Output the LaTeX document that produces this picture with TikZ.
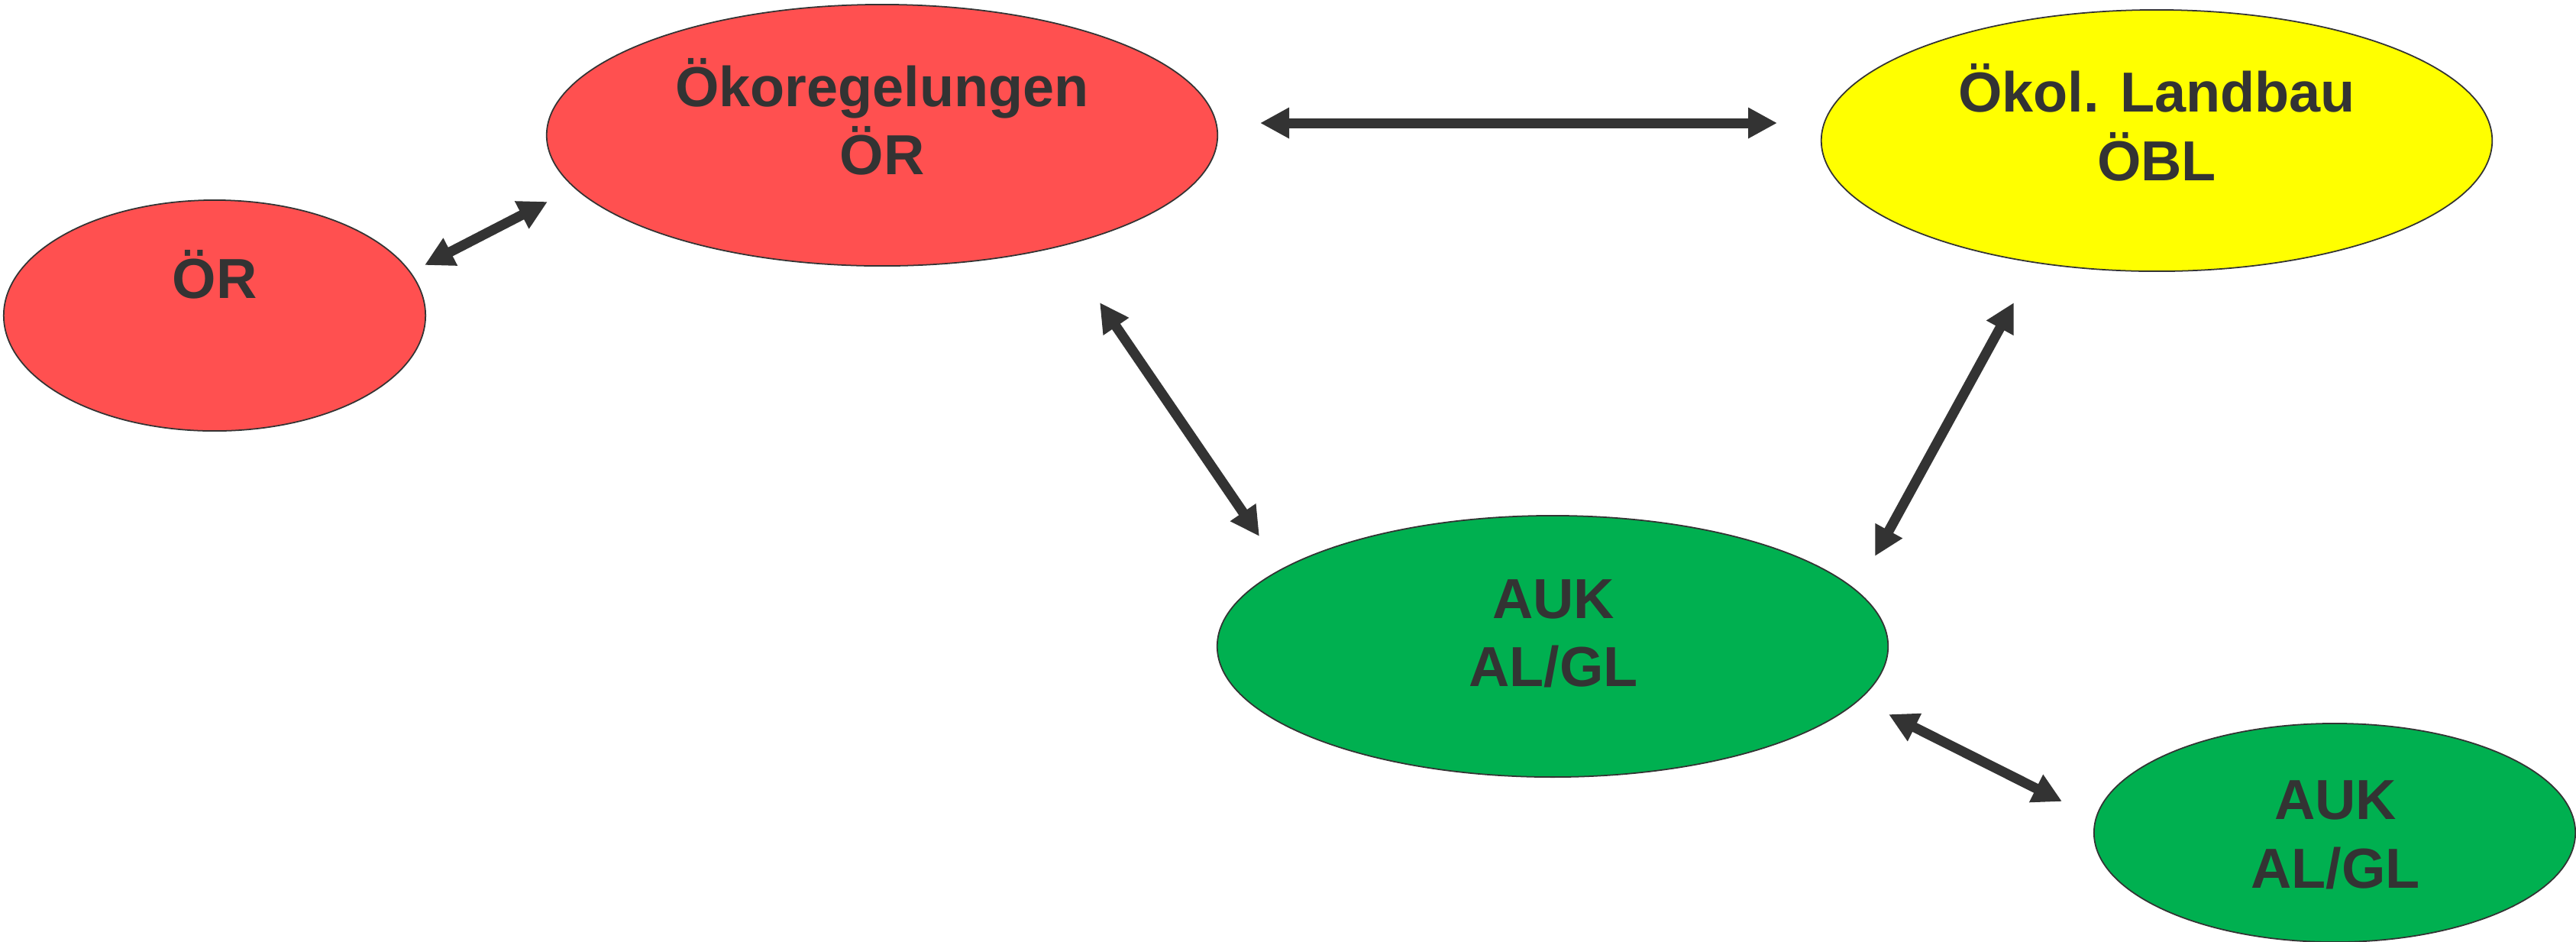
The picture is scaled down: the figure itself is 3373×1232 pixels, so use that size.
\documentclass[tikz,border=0pt]{standalone}
\usepackage{fontspec}
\setmainfont{Liberation Sans}
\usetikzlibrary{shapes.geometric,arrows.meta}
\definecolor{redfill}{HTML}{FF5050}
\definecolor{yelfill}{HTML}{FFFF00}
\definecolor{grnfill}{HTML}{00B050}
\definecolor{ink}{HTML}{333333}
\begin{document}
\begin{tikzpicture}[x=0.01cm,y=-0.01cm,
  blob/.style={ellipse, draw=ink, line width=0.5pt, inner sep=0pt},
  lbl/.style={anchor=base, inner sep=0pt, text=ink, font=\fontsize{21}{25}\selectfont\bfseries},
  link/.style={draw=ink, line width=0.13cm, {Triangle[length=0.38cm,width=0.38cm]}-{Triangle[length=0.38cm,width=0.38cm]}}
]
\useasboundingbox (0,0) rectangle (3373,1232);
\fill[white] (0,0) rectangle (3373,1232);
% ellipses
\node[blob, fill=redfill, minimum width=5.52cm, minimum height=3.02cm] (or) at (281,413) {};
\node[blob, fill=redfill, minimum width=8.78cm, minimum height=3.42cm] (oekor) at (1155,177) {};
\node[blob, fill=yelfill, minimum width=8.78cm, minimum height=3.42cm] (oebl) at (2824,184) {};
\node[blob, fill=grnfill, minimum width=8.78cm, minimum height=3.42cm] (auk) at (2033,846) {};
\node[blob, fill=grnfill, minimum width=6.30cm, minimum height=2.86cm] (auks) at (3057,1090) {};
% labels
\node[lbl] (t1) at (281,390) {ÖR};
\node[lbl] (t2a) at (1155,139) {Ökoregelungen};
\node[lbl] (t2b) at (1155,228) {ÖR};
\node[lbl] (t3a) at (2824,146) {Ökol. Landbau};
\node[lbl] (t3b) at (2824,236) {ÖBL};
\node[lbl] (t4a) at (2034,809) {AUK};
\node[lbl] (t4b) at (2034,898) {AL/GL};
\node[lbl] (t5a) at (3058,1072) {AUK};
\node[lbl] (t5b) at (3058,1162) {AL/GL};
% arrow ends
\coordinate (a1s) at (556,347);
\coordinate (a1e) at (717,264);
\coordinate (a2s) at (1650,161);
\coordinate (a2e) at (2327,161);
\coordinate (a3s) at (1440,396);
\coordinate (a3e) at (1649,702);
\coordinate (a4s) at (2637,396);
\coordinate (a4e) at (2455,728);
\coordinate (a5s) at (2473,935);
\coordinate (a5e) at (2700,1049);
\draw[link] (a1s) -- (a1e);
\draw[link] (a2s) -- (a2e);
\draw[link] (a3s) -- (a3e);
\draw[link] (a4s) -- (a4e);
\draw[link] (a5s) -- (a5e);
\end{tikzpicture}
\end{document}
